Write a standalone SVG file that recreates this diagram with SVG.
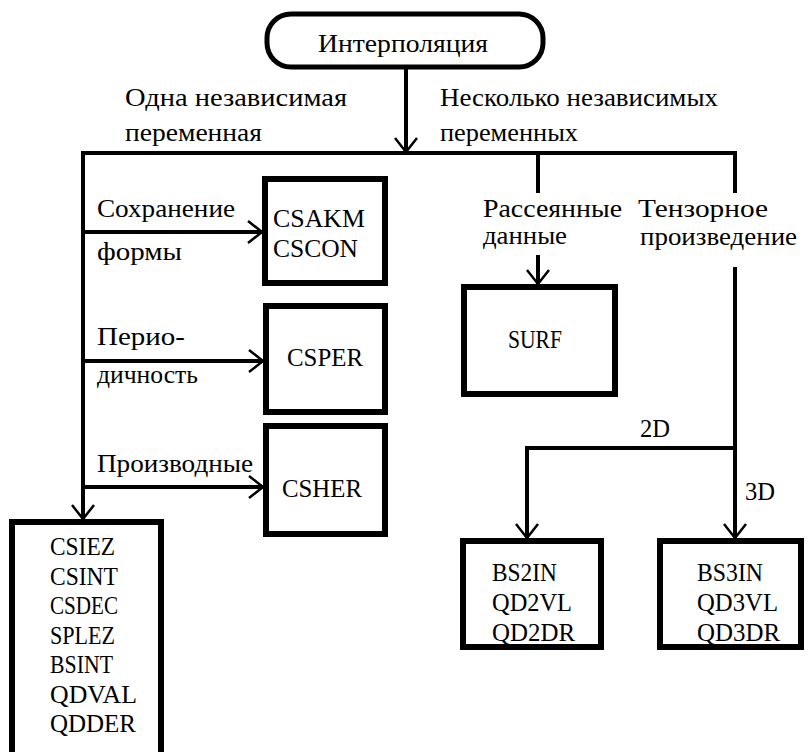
<svg xmlns="http://www.w3.org/2000/svg" width="809" height="752" viewBox="0 0 809 752">
<style>
  .t { font-family: 'Liberation Serif', 'DejaVu Serif', 'Noto Serif', 'Times New Roman', serif; font-size: 25px; fill: #000; }
  .box { fill: #fff; stroke: #000; stroke-width: 6; }
  .term { fill: #fff; stroke: #000; stroke-width: 5; }
  .ln { fill: none; stroke: #000; stroke-width: 4; }
  .arr { fill: none; stroke: #000; stroke-width: 4; marker-end: url(#v); }
</style>
<defs>
  <marker id="v" viewBox="0 0 16 24" refX="15" refY="12" markerWidth="16" markerHeight="24" markerUnits="userSpaceOnUse" orient="auto" overflow="visible">
    <path d="M1,1 L15,12 L1,23" fill="none" stroke="#000" stroke-width="2.5"/>
  </marker>
</defs>
<rect width="809" height="752" fill="#fff"/>

<g id="connectors">
  <line class="arr" x1="406" y1="67" x2="406" y2="152"/>
  <line class="ln" x1="81" y1="153" x2="737" y2="153"/>
  <line class="arr" x1="83" y1="151" x2="83" y2="519"/>
  <line class="arr" x1="83" y1="232" x2="262" y2="232"/>
  <line class="arr" x1="83" y1="361" x2="263" y2="361"/>
  <line class="arr" x1="83" y1="487" x2="263" y2="487"/>
  <line class="ln" x1="538" y1="153" x2="538" y2="193"/>
  <line class="arr" x1="538" y1="255" x2="538" y2="284"/>
  <line class="ln" x1="735" y1="153" x2="735" y2="193"/>
  <line class="arr" x1="735" y1="267" x2="735" y2="538"/>
  <polyline class="arr" points="735,448 527,448 527,538"/>
  <text class="t" x="125" y="106" textLength="222" lengthAdjust="spacingAndGlyphs">Одна независимая</text>
  <text class="t" x="125" y="141" textLength="137" lengthAdjust="spacingAndGlyphs">переменная</text>
  <text class="t" x="440" y="106" textLength="278" lengthAdjust="spacingAndGlyphs">Несколько независимых</text>
  <text class="t" x="440" y="141" textLength="138" lengthAdjust="spacingAndGlyphs">переменных</text>
  <text class="t" x="97" y="217" textLength="138" lengthAdjust="spacingAndGlyphs">Сохранение</text>
  <text class="t" x="97" y="260" textLength="85" lengthAdjust="spacingAndGlyphs">формы</text>
  <text class="t" x="97" y="345" textLength="88" lengthAdjust="spacingAndGlyphs">Перио-</text>
  <text class="t" x="97" y="383" textLength="101" lengthAdjust="spacingAndGlyphs">дичность</text>
  <text class="t" x="97" y="472" textLength="156" lengthAdjust="spacingAndGlyphs">Производные</text>
  <text class="t" x="483" y="217" textLength="139" lengthAdjust="spacingAndGlyphs">Рассеянные</text>
  <text class="t" x="483" y="244" textLength="84" lengthAdjust="spacingAndGlyphs">данные</text>
  <text class="t" x="638" y="217" textLength="130" lengthAdjust="spacingAndGlyphs">Тензорное</text>
  <text class="t" x="640" y="245" textLength="157" lengthAdjust="spacingAndGlyphs">произведение</text>
  <text class="t" x="640" y="437" textLength="30" lengthAdjust="spacingAndGlyphs">2D</text>
  <text class="t" x="745" y="500" textLength="30" lengthAdjust="spacingAndGlyphs">3D</text>
</g>

<g id="interp">
  <rect class="term" x="267" y="14" width="276" height="53" rx="24" ry="24"/>
  <text class="t" x="318" y="52" textLength="170" lengthAdjust="spacingAndGlyphs">Интерполяция</text>
</g>
<g id="csakm">
  <rect class="box" x="265" y="179" width="120" height="104"/>
  <text class="t" x="273" y="227" textLength="92" lengthAdjust="spacingAndGlyphs">CSAKM</text>
  <text class="t" x="273" y="257" textLength="85" lengthAdjust="spacingAndGlyphs">CSCON</text>
</g>
<g id="csper">
  <rect class="box" x="266" y="306" width="119" height="106"/>
  <text class="t" x="287" y="366" textLength="76" lengthAdjust="spacingAndGlyphs">CSPER</text>
</g>
<g id="csher">
  <rect class="box" x="266" y="426" width="119" height="108"/>
  <text class="t" x="282" y="497" textLength="80" lengthAdjust="spacingAndGlyphs">CSHER</text>
</g>
<g id="surf">
  <rect class="box" x="464" y="287" width="151" height="107"/>
  <text class="t" x="508" y="348" textLength="54" lengthAdjust="spacingAndGlyphs">SURF</text>
</g>
<g id="bs2in">
  <rect class="box" x="463" y="541" width="138" height="106"/>
  <text class="t" x="492" y="581" textLength="65" lengthAdjust="spacingAndGlyphs">BS2IN</text>
  <text class="t" x="492" y="611" textLength="80" lengthAdjust="spacingAndGlyphs">QD2VL</text>
  <text class="t" x="492" y="641" textLength="83" lengthAdjust="spacingAndGlyphs">QD2DR</text>
</g>
<g id="bs3in">
  <rect class="box" x="660" y="541" width="141" height="106"/>
  <text class="t" x="697" y="581" textLength="66" lengthAdjust="spacingAndGlyphs">BS3IN</text>
  <text class="t" x="697" y="611" textLength="81" lengthAdjust="spacingAndGlyphs">QD3VL</text>
  <text class="t" x="697" y="641" textLength="83" lengthAdjust="spacingAndGlyphs">QD3DR</text>
</g>
<g id="csiez">
  <rect class="box" x="12" y="522" width="149" height="240"/>
  <text class="t" x="50" y="555" textLength="65" lengthAdjust="spacingAndGlyphs">CSIEZ</text>
  <text class="t" x="50" y="584.5" textLength="68" lengthAdjust="spacingAndGlyphs">CSINT</text>
  <text class="t" x="50" y="614" textLength="68" lengthAdjust="spacingAndGlyphs">CSDEC</text>
  <text class="t" x="50" y="643.5" textLength="65" lengthAdjust="spacingAndGlyphs">SPLEZ</text>
  <text class="t" x="50" y="673" textLength="63" lengthAdjust="spacingAndGlyphs">BSINT</text>
  <text class="t" x="50" y="702.5" textLength="87" lengthAdjust="spacingAndGlyphs">QDVAL</text>
  <text class="t" x="50" y="732" textLength="86" lengthAdjust="spacingAndGlyphs">QDDER</text>
</g>
</svg>
